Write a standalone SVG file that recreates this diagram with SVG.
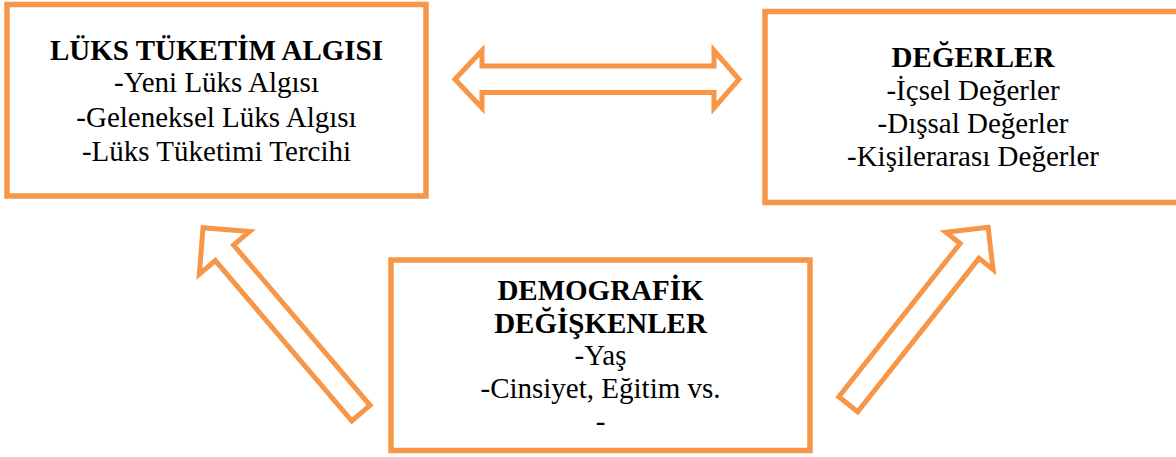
<svg xmlns="http://www.w3.org/2000/svg" width="1176" height="457" viewBox="0 0 1176 457">
<defs>
<style>
.box{fill:#fff;stroke:#F79646;stroke-width:5.5}
.arr{fill:#fff;stroke:#F79646;stroke-width:5;stroke-linejoin:miter}
.t{font-family:"Times New Roman","Liberation Serif",Times,serif;font-size:29px;font-weight:400;fill:#000;text-anchor:middle}
.b{font-weight:700}
</style>
</defs>
<rect width="1176" height="457" fill="#fff"/>
<g id="connectors">
<polygon class="arr" points="455,79.3 482,50.5 482,66 714,66 714,50.5 739,79.3 714,108 714,92.5 482,92.5 482,108"/>
<g transform="translate(362.5,415) rotate(-130.4)">
<polygon class="arr" points="2.5,-12 213,-12 213,-33 246,0 213,33 213,12 2.5,12"/>
</g>
<g transform="translate(846.7,406.2) rotate(-51.66)">
<polygon class="arr" points="2.5,-12 198,-12 198,-30 228,0 198,30 198,12 2.5,12"/>
</g>
</g>
<g id="node-luks">
<rect class="box" x="7" y="4.5" width="419" height="191.5"/>
<text class="t b" x="216.5" y="60">LÜKS TÜKETİM ALGISI</text>
<text class="t" x="216.5" y="92">-Yeni Lüks Algısı</text>
<text class="t" x="216.5" y="126.5">-Geleneksel Lüks Algısı</text>
<text class="t" x="216.5" y="161">-Lüks Tüketimi Tercihi</text>
</g>
<g id="node-degerler">
<rect class="box" x="765" y="11.5" width="416" height="191"/>
<text class="t b" x="973" y="67">DEĞERLER</text>
<text class="t" x="973" y="100">-İçsel Değerler</text>
<text class="t" x="973" y="133">-Dışsal Değerler</text>
<text class="t" x="973" y="166">-Kişilerarası Değerler</text>
</g>
<g id="node-demografik">
<rect class="box" x="391" y="260" width="419" height="190.5"/>
<text class="t b" x="600.5" y="300">DEMOGRAFİK</text>
<text class="t b" x="600.5" y="333">DEĞİŞKENLER</text>
<text class="t" x="600.5" y="365">-Yaş</text>
<text class="t" x="600.5" y="398">-Cinsiyet, Eğitim vs.</text>
<text class="t" x="600.5" y="431">-</text>
</g>
</svg>
